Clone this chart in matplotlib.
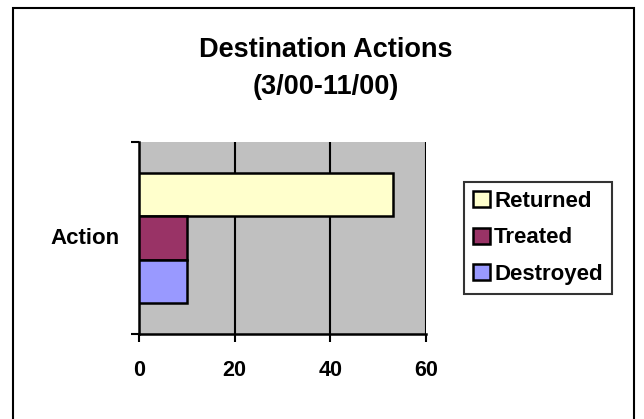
import matplotlib.pyplot as plt
from matplotlib.patches import Rectangle

plt.rcParams['font.family'] = ['Liberation Sans', 'DejaVu Sans']

series = ['Returned', 'Treated', 'Destroyed']
values = [53, 10, 10]
colors = ['#FFFFCC', '#993366', '#9999FF']
category = 'Action'
xticks = [0, 20, 40, 60]

fig = plt.figure(figsize=(6.44, 4.19), dpi=100)
fig.patches.append(Rectangle((13 / 644, -0.01), 621 / 644, 1 - 8 / 419 + 0.01,
                             transform=fig.transFigure, fill=False,
                             edgecolor='black', linewidth=1.5))

ax = fig.add_axes([139 / 644, 1 - 334 / 419, 287 / 644, 192 / 419])
ax.set_facecolor('#C0C0C0')

h = 0.224
offsets = [h, 0, -h]
for name, val, col, off in zip(series, values, colors, offsets):
    ax.barh(off, val, height=h, color=col, edgecolor='black', linewidth=1.8,
            label=name, zorder=3)

ax.set_xlim(0, 60)
ax.set_ylim(-0.5, 0.5)
ax.set_xticks(xticks)
ax.set_xticklabels([str(t) for t in xticks], fontsize=15.5, fontweight='bold')
ax.set_yticks([-0.5, 0.5])
ax.set_yticklabels([])
ax.tick_params(axis='x', length=6, width=1.5, pad=13)
ax.tick_params(axis='y', length=6, width=1.5)
ax.grid(axis='x', color='black', linewidth=1.5, zorder=1)
ax.set_axisbelow(True)
for side in ['top', 'right']:
    ax.spines[side].set_visible(False)
for side in ['left', 'bottom']:
    ax.spines[side].set_linewidth(1.8)
ax.text(-19 / 287, 0.5, category, transform=ax.transAxes, ha='right', va='center',
        fontsize=16, fontweight='bold')

fig.text(326 / 644, 1 - 50 / 419, 'Destination Actions', ha='center', va='center',
         fontsize=19.5, fontweight='bold')
fig.text(326 / 644, 1 - 87 / 419, '(3/00-11/00)', ha='center', va='center',
         fontsize=19.5, fontweight='bold')

leg = fig.legend(loc='upper left', bbox_to_anchor=(464 / 644, 1 - 182 / 419),
                 prop={'weight': 'bold', 'size': 16},
                 frameon=True, fancybox=False, handlelength=0.75, handleheight=0.75,
                 handletextpad=0.2, labelspacing=0.7, borderpad=0.4,
                 borderaxespad=0)
leg.get_frame().set_edgecolor('black')
leg.get_frame().set_linewidth(1.5)

fig.savefig('out.png', dpi=100)
